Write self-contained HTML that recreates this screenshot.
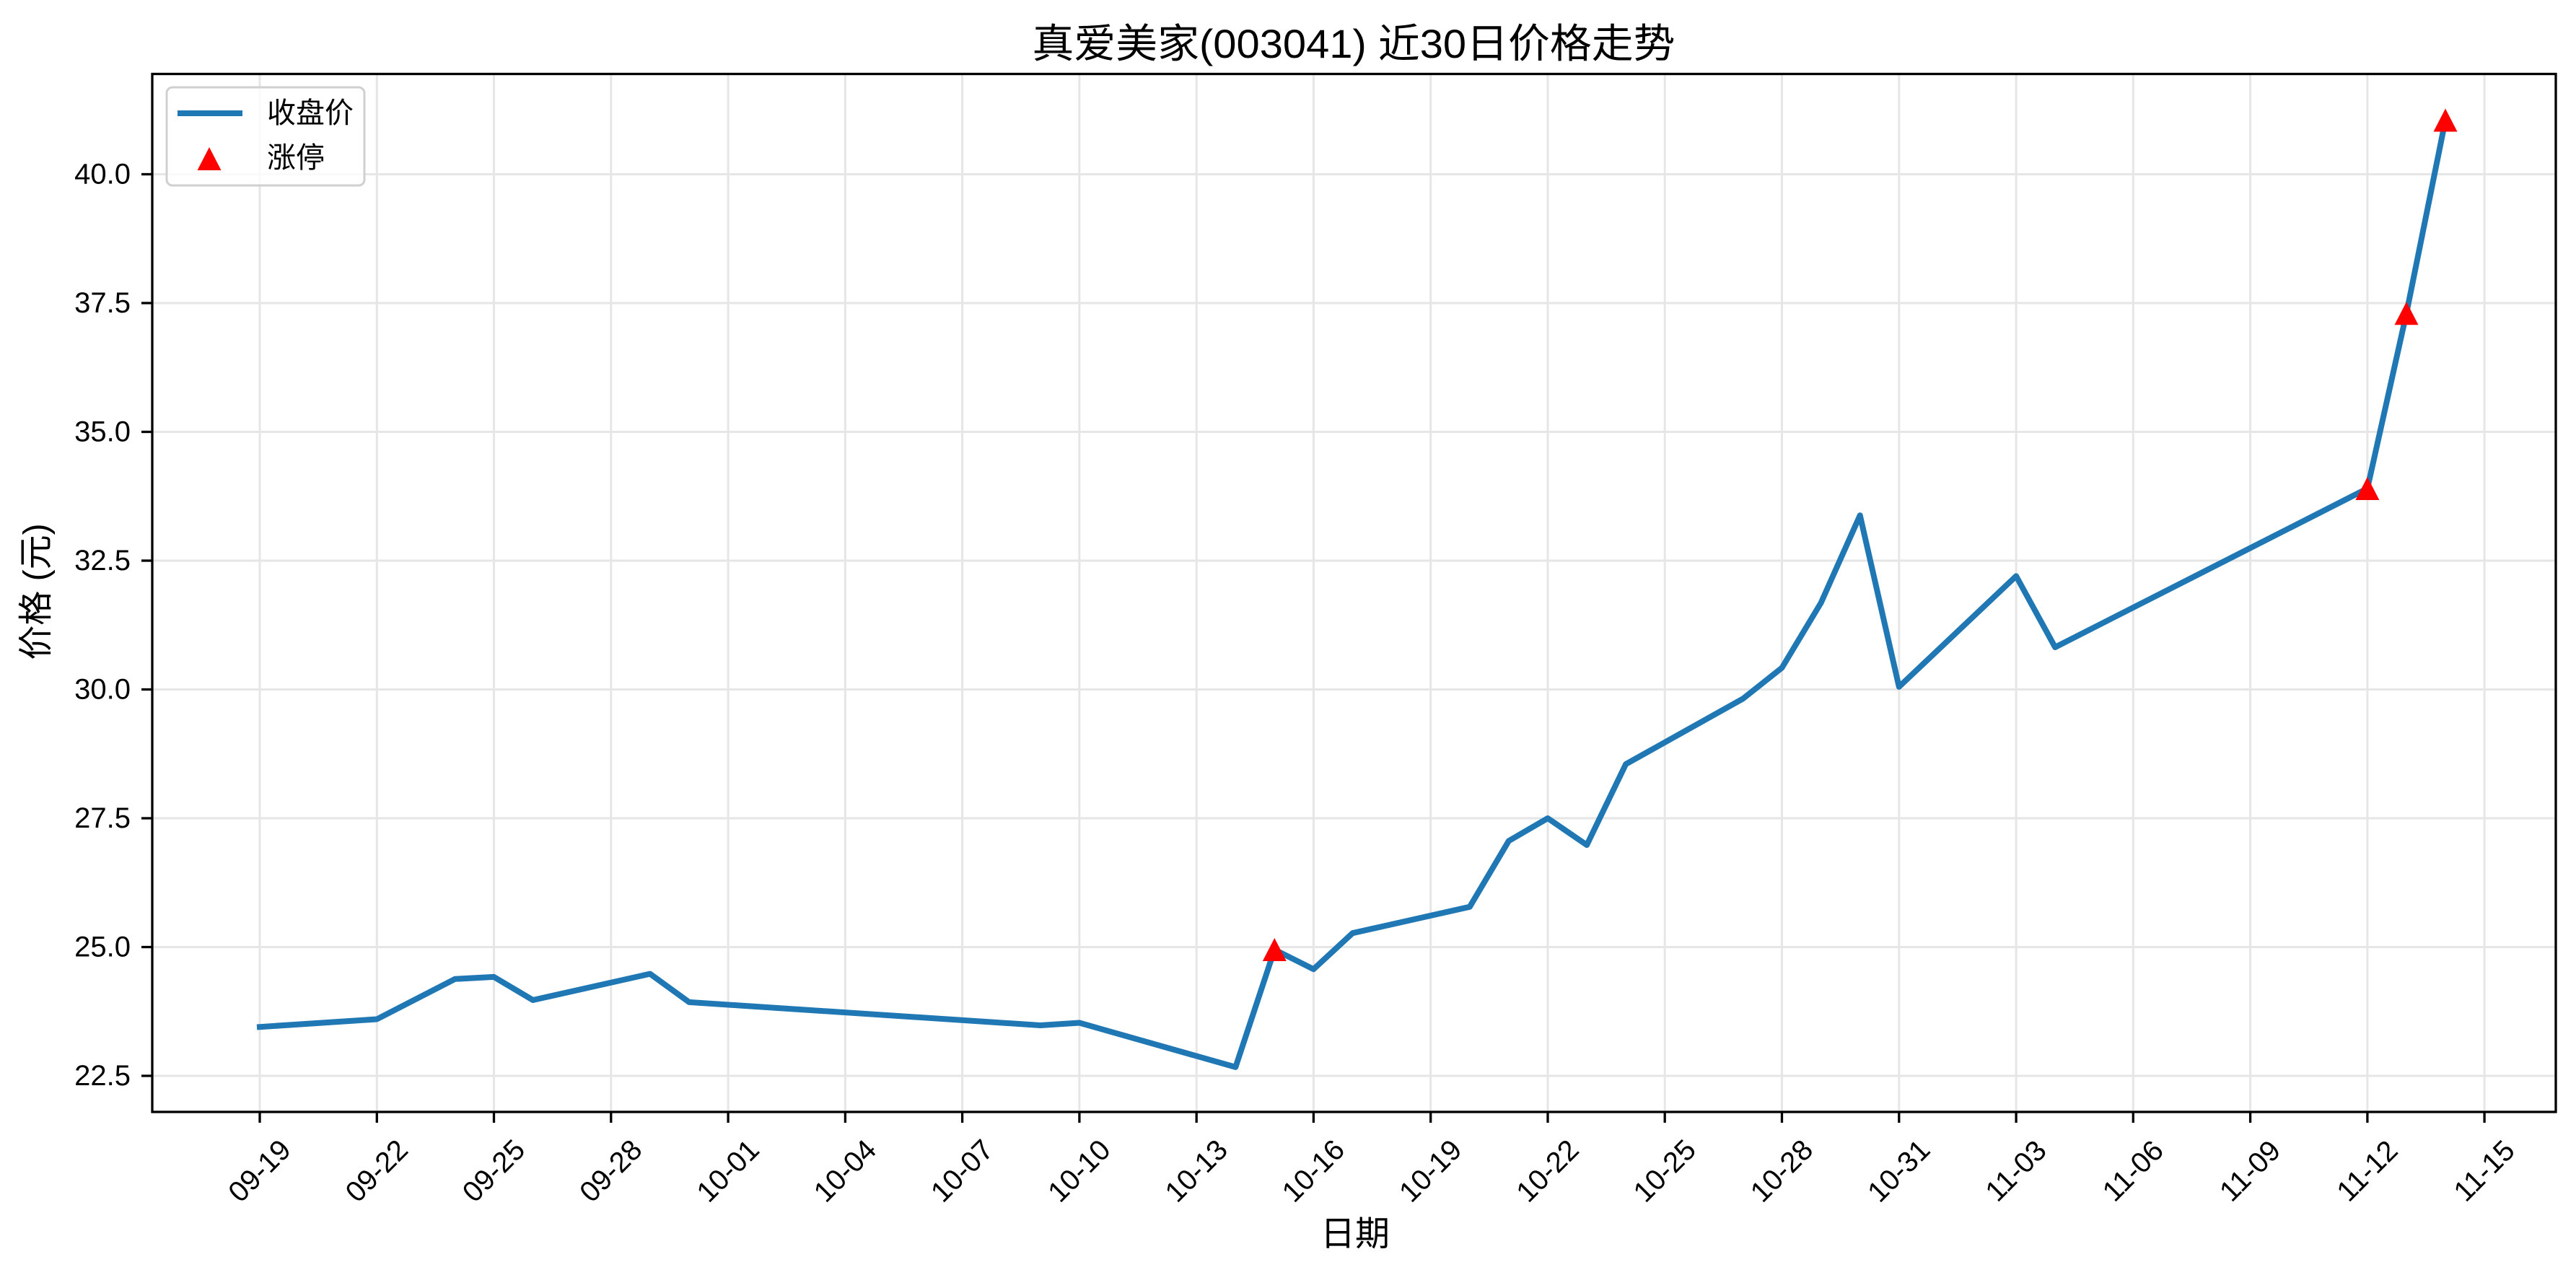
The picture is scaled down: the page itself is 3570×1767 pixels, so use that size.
<!DOCTYPE html>
<html><head><meta charset="utf-8"><style>
html,body{margin:0;padding:0;background:#fff;}
svg{display:block;}
text{font-family:"Liberation Sans","Noto Sans CJK SC",sans-serif;fill:#000;}
</style></head><body>
<svg width="3570" height="1767" viewBox="0 0 3570 1767" xmlns="http://www.w3.org/2000/svg">
<rect width="3570" height="1767" fill="#fff"/>
<g stroke="#e6e6e6" stroke-width="3">
<line x1="360" y1="102" x2="360" y2="1541"/>
<line x1="522.3" y1="102" x2="522.3" y2="1541"/>
<line x1="684.5" y1="102" x2="684.5" y2="1541"/>
<line x1="846.8" y1="102" x2="846.8" y2="1541"/>
<line x1="1009.1" y1="102" x2="1009.1" y2="1541"/>
<line x1="1171.4" y1="102" x2="1171.4" y2="1541"/>
<line x1="1333.6" y1="102" x2="1333.6" y2="1541"/>
<line x1="1495.9" y1="102" x2="1495.9" y2="1541"/>
<line x1="1658.2" y1="102" x2="1658.2" y2="1541"/>
<line x1="1820.4" y1="102" x2="1820.4" y2="1541"/>
<line x1="1982.7" y1="102" x2="1982.7" y2="1541"/>
<line x1="2145" y1="102" x2="2145" y2="1541"/>
<line x1="2307.2" y1="102" x2="2307.2" y2="1541"/>
<line x1="2469.5" y1="102" x2="2469.5" y2="1541"/>
<line x1="2631.8" y1="102" x2="2631.8" y2="1541"/>
<line x1="2794.1" y1="102" x2="2794.1" y2="1541"/>
<line x1="2956.3" y1="102" x2="2956.3" y2="1541"/>
<line x1="3118.6" y1="102" x2="3118.6" y2="1541"/>
<line x1="3280.9" y1="102" x2="3280.9" y2="1541"/>
<line x1="3443.1" y1="102" x2="3443.1" y2="1541"/>
<line x1="211" y1="1491" x2="3542" y2="1491"/>
<line x1="211" y1="1312.5" x2="3542" y2="1312.5"/>
<line x1="211" y1="1134" x2="3542" y2="1134"/>
<line x1="211" y1="955.5" x2="3542" y2="955.5"/>
<line x1="211" y1="777" x2="3542" y2="777"/>
<line x1="211" y1="598.5" x2="3542" y2="598.5"/>
<line x1="211" y1="420" x2="3542" y2="420"/>
<line x1="211" y1="241.5" x2="3542" y2="241.5"/>
</g>
<polyline fill="none" stroke="#1f77b4" stroke-width="8" stroke-linejoin="round" stroke-linecap="square" points="360,1423.2 522.3,1412.5 630.5,1356.8 684.5,1353.9 738.6,1386 900.9,1349.6 955,1388.9 1441.8,1421 1495.9,1417.5 1712.3,1478.9 1766.3,1316.1 1820.4,1343.2 1874.5,1293.2 2036.8,1256.8 2090.9,1165.4 2145,1134 2199.1,1171.1 2253.2,1059 2415.4,968.4 2469.5,925.5 2523.6,835.5 2577.7,714.2 2631.8,951.9 2794.1,798.4 2848.1,897 3280.9,677 3335,434.3 3389,166.5"/>
<g fill="#ff0000">
<polygon points="1766.3,1300 1749.8,1332 1782.8,1332"/>
<polygon points="3280.9,661 3264.4,693 3297.4,693"/>
<polygon points="3335,418.3 3318.5,450.3 3351.5,450.3"/>
<polygon points="3389,150.5 3372.5,182.5 3405.5,182.5"/>
</g>
<rect x="211" y="102.5" width="3331" height="1438.5" fill="none" stroke="#000" stroke-width="3.3"/>
<g stroke="#000" stroke-width="3.3">
<line x1="360" y1="1541" x2="360" y2="1556"/>
<line x1="522.3" y1="1541" x2="522.3" y2="1556"/>
<line x1="684.5" y1="1541" x2="684.5" y2="1556"/>
<line x1="846.8" y1="1541" x2="846.8" y2="1556"/>
<line x1="1009.1" y1="1541" x2="1009.1" y2="1556"/>
<line x1="1171.4" y1="1541" x2="1171.4" y2="1556"/>
<line x1="1333.6" y1="1541" x2="1333.6" y2="1556"/>
<line x1="1495.9" y1="1541" x2="1495.9" y2="1556"/>
<line x1="1658.2" y1="1541" x2="1658.2" y2="1556"/>
<line x1="1820.4" y1="1541" x2="1820.4" y2="1556"/>
<line x1="1982.7" y1="1541" x2="1982.7" y2="1556"/>
<line x1="2145" y1="1541" x2="2145" y2="1556"/>
<line x1="2307.2" y1="1541" x2="2307.2" y2="1556"/>
<line x1="2469.5" y1="1541" x2="2469.5" y2="1556"/>
<line x1="2631.8" y1="1541" x2="2631.8" y2="1556"/>
<line x1="2794.1" y1="1541" x2="2794.1" y2="1556"/>
<line x1="2956.3" y1="1541" x2="2956.3" y2="1556"/>
<line x1="3118.6" y1="1541" x2="3118.6" y2="1556"/>
<line x1="3280.9" y1="1541" x2="3280.9" y2="1556"/>
<line x1="3443.1" y1="1541" x2="3443.1" y2="1556"/>
<line x1="196" y1="1491" x2="211" y2="1491"/>
<line x1="196" y1="1312.5" x2="211" y2="1312.5"/>
<line x1="196" y1="1134" x2="211" y2="1134"/>
<line x1="196" y1="955.5" x2="211" y2="955.5"/>
<line x1="196" y1="777" x2="211" y2="777"/>
<line x1="196" y1="598.5" x2="211" y2="598.5"/>
<line x1="196" y1="420" x2="211" y2="420"/>
<line x1="196" y1="241.5" x2="211" y2="241.5"/>
</g>
<g font-size="40" text-anchor="end" dominant-baseline="central">
<text x="181" y="1491">22.5</text>
<text x="181" y="1312.5">25.0</text>
<text x="181" y="1134">27.5</text>
<text x="181" y="955.5">30.0</text>
<text x="181" y="777">32.5</text>
<text x="181" y="598.5">35.0</text>
<text x="181" y="420">37.5</text>
<text x="181" y="241.5">40.0</text>
</g>
<g font-size="40" text-anchor="middle" dominant-baseline="central">
<text transform="translate(360,1623) rotate(-45)">09-19</text>
<text transform="translate(522.3,1623) rotate(-45)">09-22</text>
<text transform="translate(684.5,1623) rotate(-45)">09-25</text>
<text transform="translate(846.8,1623) rotate(-45)">09-28</text>
<text transform="translate(1009.1,1623) rotate(-45)">10-01</text>
<text transform="translate(1171.4,1623) rotate(-45)">10-04</text>
<text transform="translate(1333.6,1623) rotate(-45)">10-07</text>
<text transform="translate(1495.9,1623) rotate(-45)">10-10</text>
<text transform="translate(1658.2,1623) rotate(-45)">10-13</text>
<text transform="translate(1820.4,1623) rotate(-45)">10-16</text>
<text transform="translate(1982.7,1623) rotate(-45)">10-19</text>
<text transform="translate(2145,1623) rotate(-45)">10-22</text>
<text transform="translate(2307.2,1623) rotate(-45)">10-25</text>
<text transform="translate(2469.5,1623) rotate(-45)">10-28</text>
<text transform="translate(2631.8,1623) rotate(-45)">10-31</text>
<text transform="translate(2794.1,1623) rotate(-45)">11-03</text>
<text transform="translate(2956.3,1623) rotate(-45)">11-06</text>
<text transform="translate(3118.6,1623) rotate(-45)">11-09</text>
<text transform="translate(3280.9,1623) rotate(-45)">11-12</text>
<text transform="translate(3443.1,1623) rotate(-45)">11-15</text>
</g>
<text x="1876" y="80" font-size="56" text-anchor="middle" textLength="891" lengthAdjust="spacingAndGlyphs">真爱美家(003041) 近30日价格走势</text>
<text x="1878" y="1726" font-size="48" text-anchor="middle">日期</text>
<text transform="translate(66,820) rotate(-90)" font-size="48" text-anchor="middle">价格 (元)</text>
<rect x="231" y="121" width="274" height="136" rx="8" fill="#fff" fill-opacity="0.8" stroke="#d0d0d0" stroke-width="3"/>
<line x1="246" y1="157" x2="336" y2="157" stroke="#1f77b4" stroke-width="8"/>
<polygon points="290,204 273.5,236 306.5,236" fill="#ff0000"/>
<g font-size="40" dominant-baseline="central">
<text x="370" y="157">收盘价</text>
<text x="370" y="219">涨停</text>
</g>
</svg>
</body></html>
